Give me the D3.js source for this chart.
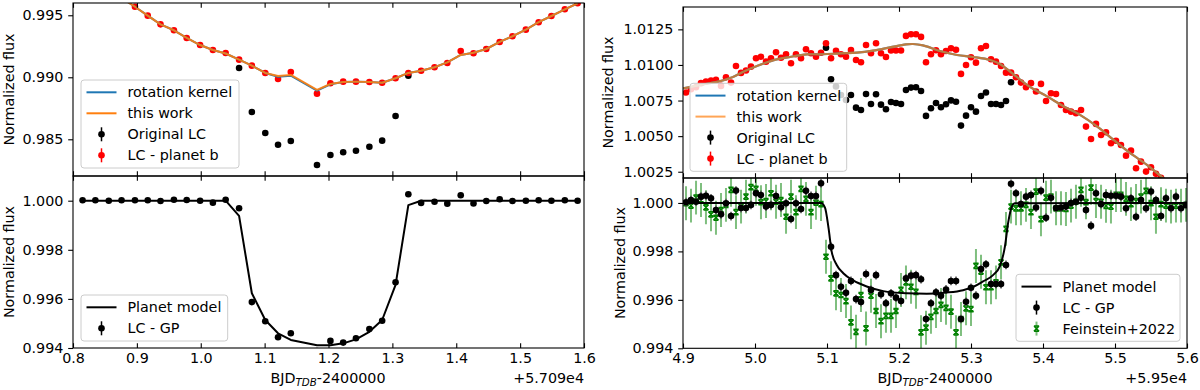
<!DOCTYPE html>
<html>
<head>
<meta charset="utf-8">
<script src="https://cdn.jsdelivr.net/npm/d3@7"></script>
<style>
  body { margin: 0; background: #fff; }
  text { font-family: "DejaVu Sans", sans-serif; }
</style>
</head>
<body>
<svg id="fig" width="1200" height="390"></svg>
<script>
// ---------------- left transit (x offset +5.709e4) ----------------
const tL = [0.815, 0.835, 0.856, 0.876, 0.897, 0.917, 0.937, 0.958, 0.978, 0.999,
  1.019, 1.039, 1.060, 1.080, 1.101, 1.121, 1.141, 1.182, 1.203, 1.223,
  1.243, 1.264, 1.284, 1.305, 1.325, 1.345, 1.366, 1.386, 1.407, 1.427,
  1.447, 1.468, 1.488, 1.509, 1.529, 1.549, 1.570, 1.590]
// LC - planet b
const lcbL = [0.99850, 0.99780, 0.99710, 0.99640, 0.99569, 0.99497, 0.99427, 0.99379, 0.99317, 0.99260,
  0.99220, 0.99196, 0.99142, 0.99094, 0.99035, 0.98986, 0.99043, 0.98868, 0.98952, 0.98965,
  0.98965, 0.98962, 0.98956, 0.98992, 0.99035, 0.99053, 0.99081, 0.99115, 0.99212, 0.99194,
  0.99228, 0.99285, 0.99331, 0.99384, 0.99444, 0.99494, 0.99548, 0.99597]
// Original LC (only where it differs from LC - planet b)
const origL = [null, null, null, null, null, null, null, null, null, null,
  null, null, 0.99075, 0.98720, 0.98551, 0.98456, 0.98486, 0.98293, 0.98373, 0.98395,
  0.98408, 0.98440, 0.98489, 0.98688, 0.99013, null, null, null, null, null,
  null, null, null, null, null, null, null, null]
const rotKernelL = [0.99850, 0.99780, 0.99710, 0.99640, 0.99569, 0.99497, 0.99427, 0.99379, 0.99317, 0.99260,
  0.99220, 0.99192, 0.99142, 0.99094, 0.99035, 0.99004, 0.99013, 0.98892, 0.98944, 0.98962,
  0.98965, 0.98962, 0.98956, 0.98992, 0.99035, 0.99053, 0.99081, 0.99120, 0.99180, 0.99198,
  0.99228, 0.99285, 0.99331, 0.99384, 0.99444, 0.99494, 0.99548, 0.99597]
const thisWorkL = [0.99850, 0.99780, 0.99710, 0.99640, 0.99569, 0.99497, 0.99427, 0.99379, 0.99317, 0.99260,
  0.99220, 0.99192, 0.99142, 0.99094, 0.99035, 0.99010, 0.99019, 0.98898, 0.98946, 0.98962,
  0.98965, 0.98962, 0.98956, 0.98992, 0.99035, 0.99053, 0.99081, 0.99120, 0.99180, 0.99198,
  0.99228, 0.99285, 0.99331, 0.99384, 0.99444, 0.99494, 0.99548, 0.99597]
// LC - GP
const gpL = [1.00002, 1.00002, 1.00000, 1.00002, 1.00002, 1.00002, 0.99999, 1.00004, 1.00003, 1.00000,
  0.99992, 1.00004, 0.99969, 0.99587, 0.99509, 0.99444, 0.99460, 0.99388, 0.99429, 0.99422,
  0.99440, 0.99477, 0.99511, 0.99668, 1.00026, 0.99991, 0.99996, 0.99988, 1.00022, 0.99989,
  0.99999, 1.00006, 0.99999, 1.00000, 1.00002, 1.00000, 1.00002, 1.00000]
const modelL = [1, 1, 1, 1, 1, 1, 1, 1, 1, 1,
  1, 1, 0.99938, 0.99623, 0.99514, 0.99460, 0.99433, 0.99411, 0.99411, 0.99419,
  0.99435, 0.99466, 0.99514, 0.99657, 0.99982, 1, 1, 1, 1, 1,
  1, 1, 1, 1, 1, 1, 1, 1]

// ---------------- right transit (x offset +5.95e4) ----------------
const tR = [4.9042, 4.9111, 4.9181, 4.9250, 4.9319, 4.9389, 4.9458, 4.9528, 4.9597, 4.9667,
  4.9736, 4.9806, 4.9875, 4.9944, 5.0014, 5.0083, 5.0153, 5.0222, 5.0292, 5.0361,
  5.0431, 5.0500, 5.0569, 5.0639, 5.0708, 5.0778, 5.0847, 5.0917, 5.0986, 5.1056,
  5.1125, 5.1194, 5.1264, 5.1333, 5.1403, 5.1472, 5.1542, 5.1611, 5.1681, 5.1750,
  5.1819, 5.1889, 5.1958, 5.2028, 5.2097, 5.2167, 5.2236, 5.2306, 5.2375, 5.2444,
  5.2514, 5.2583, 5.2653, 5.2722, 5.2792, 5.2861, 5.2931, 5.3000, 5.3069, 5.3139,
  5.3208, 5.3278, 5.3347, 5.3417, 5.3486, 5.3556, 5.3625, 5.3694, 5.3764, 5.3833,
  5.3903, 5.3972, 5.4042, 5.4111, 5.4181, 5.4250, 5.4319, 5.4389, 5.4458, 5.4528,
  5.4597, 5.4667, 5.4736, 5.4806, 5.4875, 5.4944, 5.5014, 5.5083, 5.5153, 5.5222,
  5.5292, 5.5361, 5.5431, 5.5500, 5.5569, 5.5639, 5.5708, 5.5778, 5.5847, 5.5917,
  5.5986]
const lcbR = [1.00806, 1.00829, 1.00843, 1.00872, 1.00883, 1.00890, 1.00895, 1.00853, 1.00914, 1.00876,
  1.00993, 1.00944, 1.00961, 1.00988, 1.01047, 1.01058, 1.01023, 1.01047, 1.01089, 1.01051,
  1.01075, 1.01012, 1.01075, 1.01047, 1.01110, 1.01082, 1.01058, 1.01086, 1.01152, 1.01047,
  1.01100, 1.01075, 1.01058, 1.01105, 1.01035, 1.01019, 1.01140, 1.01082, 1.01152, 1.01082,
  1.01056, 1.01102, 1.01102, 1.01102, 1.01204, 1.01216, 1.01216, 1.01197, 1.01019, 1.01075,
  1.01103, 1.01076, 1.01098, 1.01117, 1.01107, 1.00937, 1.01000, 1.01054, 1.01016, 1.01117,
  1.01133, 1.01040, 1.01023, 1.00993, 1.00946, 1.00946, 1.00914, 1.00876, 1.00843, 1.00872,
  1.00813, 1.00867, 1.00747, 1.00801, 1.00796, 1.00719, 1.00684, 1.00672, 1.00661, 1.00684,
  1.00567, 1.00480, 1.00586, 1.00508, 1.00527, 1.00450, 1.00468, 1.00438, 1.00363, 1.00398,
  1.00275, 1.00321, 1.00251, 1.00282, 1.00235, 1.00207, 1.00178, 1.00164, 1.00122, 1.00108,
  1.00080]
const origR = [null, null, null, null, null, null, null, null, null, null,
  null, null, null, null, null, null, null, null, null, null,
  null, null, null, null, null, null, null, null, 1.01121, 1.00900,
  1.00849, 1.00789, 1.00754, 1.00789, 1.00700, 1.00684, 1.00796, 1.00726, 1.00794, 1.00721,
  1.00689, 1.00740, 1.00733, 1.00726, 1.00824, 1.00841, 1.00843, 1.00817, 1.00642, 1.00696,
  1.00733, 1.00703, 1.00724, 1.00751, 1.00742, 1.00574, 1.00644, 1.00703, 1.00672, 1.00782,
  1.00806, 1.00726, 1.00726, 1.00719, 1.00747, 1.00879, null, null, null, null,
  null, null, null, null, null, null, null, null, null, null,
  null, null, null, null, null, null, null, null, null, null,
  null, null, null, null, null, null, null, null, null, null,
  null]
const gpR = [1.00003, 1.00012, 1.00005, 1.00026, 1.00030, 1.00019, 0.99971, 0.99953, 0.99999, 0.99946,
  1.00051, 0.99979, 0.99979, 0.99992, 1.00040, 1.00033, 0.99985, 0.99992, 1.00029, 0.99982,
  0.99999, 0.99934, 0.99999, 0.99975, 1.00050, 1.00029, 1.00029, 1.00081, 1.00136, 0.99819,
  0.99702, 0.99654, 0.99629, 0.99678, 0.99603, 0.99591, 0.99707, 0.99641, 0.99702, 0.99623,
  0.99586, 0.99627, 0.99609, 0.99595, 0.99689, 0.99700, 0.99702, 0.99685, 0.99521, 0.99586,
  0.99631, 0.99617, 0.99643, 0.99678, 0.99678, 0.99521, 0.99592, 0.99650, 0.99617, 0.99727,
  0.99747, 0.99665, 0.99665, 0.99665, 0.99744, 1.00079, 1.00040, 0.99995, 1.00026, 1.00033,
  0.99981, 1.00050, 0.99939, 1.00021, 0.99979, 0.99981, 0.99985, 1.00000, 1.00005, 1.00021,
  0.99971, 0.99906, 1.00040, 0.99995, 1.00033, 1.00030, 1.00030, 1.00026, 0.99978, 1.00019,
  0.99943, 1.00012, 0.99978, 1.00047, 1.00012, 0.99946, 1.00019, 0.99978, 1.00026, 0.99978,
  0.99992]
const feinR = [0.99999, 0.99989, 1.00022, 1.00012, 0.99982, 0.99953, 0.99939, 0.99971, 0.99992, 1.00054,
  0.99962, 0.99985, 1.00026, 1.00065, 1.00058, 1.00003, 1.00008, 1.00040, 1.00005, 1.00012,
  0.99943, 1.00026, 0.99962, 1.00058, 1.00017, 0.99962, 1.00001, 0.99995, 0.99778, 0.99689,
  0.99627, 0.99620, 0.99595, 0.99507, 0.99468, 0.99620, 0.99482, 0.99617, 0.99554, 0.99512,
  0.99534, 0.99534, 0.99554, 0.99641, 0.99672, 0.99654, 0.99633, 0.99466, 0.99485, 0.99530,
  0.99554, 0.99579, 0.99567, 0.99551, 0.99466, 0.99521, 0.99565, 0.99562, 0.99740, 0.99716,
  0.99652, 0.99652, 0.99672, 0.99755, 0.99893, 0.99985, 0.99978, 0.99978, 0.99992, 0.99962,
  1.00047, 0.99933, 1.00022, 1.00026, 0.99978, 0.99978, 0.99975, 0.99989, 1.00005, 1.00054,
  1.00003, 1.00063, 1.00008, 1.00005, 0.99988, 0.99985, 1.00033, 1.00033, 1.00017, 0.99995,
  1.00008, 1.00026, 1.00050, 0.99999, 0.99943, 0.99995, 0.99989, 0.99985, 0.99989, 0.99989,
  0.99992]
const gpErrR = 0.00018
const feinErrR = 0.0007

// GP curves (right top)
const gpCurveT = [4.9000, 4.9236, 4.9472, 4.9694, 4.9861, 5.0028, 5.0250, 5.0486, 5.0722, 5.0944,
  5.1181, 5.1417, 5.1639, 5.1875, 5.2097, 5.2194, 5.2333, 5.2569, 5.2806, 5.3028,
  5.3264, 5.3403, 5.3583, 5.3819, 5.4056, 5.4278, 5.4514, 5.4750, 5.4972, 5.5208,
  5.5444, 5.5667, 5.5903]
const rotKernelR = [1.00835, 1.00860, 1.00881, 1.00916, 1.00958, 1.00993, 1.01032, 1.01056, 1.01074, 1.01075,
  1.01081, 1.01086, 1.01100, 1.01123, 1.01144, 1.01147, 1.01137, 1.01098, 1.01070, 1.01056,
  1.01035, 1.01007, 1.00937, 1.00846, 1.00779, 1.00712, 1.00649, 1.00568, 1.00477, 1.00382,
  1.00298, 1.00207, 1.00122]
const thisWorkR = [1.00835, 1.00860, 1.00881, 1.00916, 1.00958, 1.00993, 1.01032, 1.01056, 1.01074, 1.01075,
  1.01081, 1.01086, 1.01100, 1.01123, 1.01144, 1.01147, 1.01137, 1.01098, 1.01070, 1.01056,
  1.01035, 1.01007, 1.00937, 1.00846, 1.00779, 1.00712, 1.00649, 1.00568, 1.00477, 1.00382,
  1.00298, 1.00207, 1.00122]

// planet model (right bottom)
const planetT = [4.9000, 5.0917, 5.0972, 5.1021, 5.1065, 5.1135, 5.1226, 5.1365, 5.1551, 5.1782,
  5.2107, 5.2385, 5.2663, 5.2889, 5.3028, 5.3167, 5.3306, 5.3403, 5.3472, 5.3518,
  5.3565, 5.3611, 5.6000]
const planetR = [1.00000, 1.00000, 0.99981, 0.99897, 0.99799, 0.99744, 0.99710, 0.99680, 0.99655, 0.99636,
  0.99627, 0.99625, 0.99630, 0.99640, 0.99653, 0.99676, 0.99702, 0.99740, 0.99822, 0.99922,
  0.99983, 0.99999, 1.00000]

// ticks
const xTicksL = [0.8, 0.9, 1.0, 1.1, 1.2, 1.3, 1.4, 1.5, 1.6]
const xTicksR = [4.9, 5.0, 5.1, 5.2, 5.3, 5.4, 5.5, 5.6]
const yTicksLT = [0.985, 0.990, 0.995]
const yTicksRT = [1.0025, 1.0050, 1.0075, 1.0100, 1.0125]
const yTicksB = [0.994, 0.996, 0.998, 1.000]

// ---------------- drawing ----------------
const FS = 14.3
const TICK = 4.8
const BLUE = '#1f77b4', ORANGE = '#ff7f0e'
const svg = d3.select('#fig')
const defs = svg.append('defs')

const xL = d3.scaleLinear().domain([0.8, 1.6]).range([73, 584])
const xR = d3.scaleLinear().domain([4.9, 5.6]).range([683, 1187])
const yLT = d3.scaleLinear().domain([0.98204, 0.99599]).range([176, 3])
const yLB = d3.scaleLinear().domain([0.994, 1.001006]).range([348, 176])
const yRT = d3.scaleLinear().domain([1.00206, 1.01407]).range([178, 7])
const yRB = d3.scaleLinear().domain([0.994, 1.00103]).range([348.3, 178])

function styleAxis(g) {
  g.attr('font-size', FS).attr('font-family', '"DejaVu Sans", sans-serif')
  g.select('.domain').remove()
  g.selectAll('line').attr('stroke', '#000').attr('stroke-width', 1.1)
  g.selectAll('text').attr('fill', '#000')
}

// one axes box: clip group returned for data
function panel(id, x, y, yTicks, yFmt, showX, xTicks) {
  const [x0, x1] = x.range(), [yb, yt] = y.range()
  defs.append('clipPath').attr('id', id).append('rect')
    .attr('x', x0).attr('y', yt).attr('width', x1 - x0).attr('height', yb - yt)
  const g = svg.append('g').attr('clip-path', `url(#${id})`)

  svg.append('g').attr('transform', `translate(${x0},0)`)
    .call(d3.axisLeft(y).tickValues(yTicks).tickFormat(d3.format(yFmt)).tickSize(TICK).tickPadding(4.8))
    .call(styleAxis)
  svg.append('g').attr('transform', `translate(0,${yb})`)
    .call(d3.axisBottom(x).tickValues(xTicks).tickFormat(showX ? d3.format('.1f') : '').tickSize(-TICK).tickPadding(4.6))
    .call(styleAxis)
  svg.append('g').attr('transform', `translate(0,${yt})`)
    .call(d3.axisTop(x).tickValues(xTicks).tickFormat('').tickSize(-TICK))
    .call(styleAxis)
  return g
}

function frame(x, y) {
  const [x0, x1] = x.range(), [yb, yt] = y.range()
  svg.append('rect').attr('x', x0).attr('y', yt).attr('width', x1 - x0).attr('height', yb - yt)
    .attr('fill', 'none').attr('stroke', '#000').attr('stroke-width', 1.1)
}

function pairs(ts, vs) {
  return ts.map((t, i) => [t, vs[i]]).filter(d => d[1] != null)
}

function line(g, x, y, ts, vs, color, w, op, curve) {
  g.append('path').datum(pairs(ts, vs))
    .attr('d', d3.line().x(d => x(d[0])).y(d => y(d[1])).curve(curve || d3.curveLinear))
    .attr('fill', 'none').attr('stroke', color).attr('stroke-width', w)
    .attr('stroke-opacity', op).attr('stroke-linejoin', 'round')
}

function dots(g, x, y, ts, vs, color, err, errColor) {
  const d = pairs(ts, vs)
  if (err) {
    g.append('g').selectAll('line').data(d).enter().append('line')
      .attr('x1', e => x(e[0])).attr('x2', e => x(e[0]))
      .attr('y1', e => y(e[1] - err)).attr('y2', e => y(e[1] + err))
      .attr('stroke', errColor).attr('stroke-width', 1.5)
  }
  g.append('g').selectAll('circle').data(d).enter().append('circle')
    .attr('cx', e => x(e[0])).attr('cy', e => y(e[1])).attr('r', 3.3).attr('fill', color)
}

const hourglass = 'M-2.6,-2.6L2.6,2.6M-2.6,2.6L2.6,-2.6M-2.6,-2.6H2.6M-2.6,2.6H2.6'

function xmarks(g, x, y, ts, vs, err) {
  const d = pairs(ts, vs)
  g.append('g').selectAll('line').data(d).enter().append('line')
    .attr('x1', e => x(e[0])).attr('x2', e => x(e[0]))
    .attr('y1', e => y(e[1] - err)).attr('y2', e => y(e[1] + err))
    .attr('stroke', 'green').attr('stroke-opacity', 0.5).attr('stroke-width', 2)
  g.append('g').selectAll('path').data(d).enter().append('path')
    .attr('transform', e => `translate(${x(e[0])},${y(e[1])})`)
    .attr('d', hourglass).attr('fill', 'none').attr('stroke', 'green').attr('stroke-width', 1.5)
}

function legend(lx, ly, w, items) {
  const h = 25 + 21 * (items.length - 1)
  const g = svg.append('g').attr('transform', `translate(${lx},${ly})`)
  g.append('rect').attr('width', w).attr('height', h).attr('rx', 3)
    .attr('fill', '#fff').attr('fill-opacity', 0.8).attr('stroke', '#cccccc').attr('stroke-width', 1)
  items.forEach((it, i) => {
    const cy = 12.3 + 21 * i
    if (it.kind === 'line') {
      g.append('line').attr('x1', 5.5).attr('x2', 35.5).attr('y1', cy).attr('y2', cy)
        .attr('stroke', it.color).attr('stroke-width', 2).attr('stroke-opacity', it.op || 1)
    } else if (it.kind === 'dot') {
      g.append('line').attr('x1', 20.5).attr('x2', 20.5).attr('y1', cy - 7).attr('y2', cy + 7)
        .attr('stroke', it.color).attr('stroke-width', 1.5)
      g.append('circle').attr('cx', 20.5).attr('cy', cy).attr('r', 3.3).attr('fill', it.color)
    } else {
      g.append('line').attr('x1', 20.5).attr('x2', 20.5).attr('y1', cy - 7).attr('y2', cy + 7)
        .attr('stroke', 'green').attr('stroke-opacity', 0.5).attr('stroke-width', 2)
      g.append('path').attr('transform', `translate(20.5,${cy})`).attr('d', hourglass)
        .attr('fill', 'none').attr('stroke', 'green').attr('stroke-width', 1.5)
    }
    g.append('text').attr('x', 46.5).attr('y', cy).attr('dy', '0.35em')
      .attr('font-size', FS).attr('fill', '#000').text(it.label)
  })
}

function ylabel(cx, cy) {
  svg.append('text').attr('transform', `translate(${cx},${cy}) rotate(-90)`)
    .attr('text-anchor', 'middle').attr('dy', '0.35em').attr('font-size', FS).text('Normalized flux')
}

function xlabel(cx, offset, rx) {
  const t = svg.append('text').attr('x', cx).attr('y', 383).attr('text-anchor', 'middle').attr('font-size', FS)
  t.append('tspan').text('BJD')
  t.append('tspan').attr('font-size', FS * 0.72).attr('font-style', 'italic').attr('dy', 3).text('TDB')
  t.append('tspan').attr('dy', -3).text('-2400000')
  svg.append('text').attr('x', rx).attr('y', 383).attr('text-anchor', 'end').attr('font-size', FS).text(offset)
}

// left top
let g = panel('cLT', xL, yLT, yTicksLT, '.3f', false, xTicksL)
dots(g, xL, yLT, tL, origL, '#000', 0.00005, '#000')
dots(g, xL, yLT, tL, lcbL, 'red', 0.00005, 'red')
line(g, xL, yLT, tL, rotKernelL, BLUE, 2, 1)
line(g, xL, yLT, tL, thisWorkL, ORANGE, 2, 0.9)

// left bottom
g = panel('cLB', xL, yLB, yTicksB, '.3f', true, xTicksL)
line(g, xL, yLB, tL, modelL, '#000', 2, 1)
dots(g, xL, yLB, tL, gpL, '#000', 0.00003, '#000')

// right top
g = panel('cRT', xR, yRT, yTicksRT, '.4f', false, xTicksR)
dots(g, xR, yRT, tR, origR, '#000', 0.00005, '#000')
dots(g, xR, yRT, tR, lcbR, 'red', 0.00005, 'red')
line(g, xR, yRT, gpCurveT, rotKernelR, BLUE, 2.2, 1, d3.curveCatmullRom)
line(g, xR, yRT, gpCurveT, thisWorkR, ORANGE, 2.2, 0.7, d3.curveCatmullRom)

// right bottom
g = panel('cRB', xR, yRB, yTicksB, '.3f', true, xTicksR)
xmarks(g, xR, yRB, tR, feinR, feinErrR)
dots(g, xR, yRB, tR, gpR, '#000', gpErrR, '#555')
line(g, xR, yRB, planetT, planetR, '#000', 2, 1, d3.curveMonotoneX)

frame(xL, yLT); frame(xL, yLB); frame(xR, yRT); frame(xR, yRB)

legend(81, 80, 158, [
  { kind: 'line', color: BLUE, label: 'rotation kernel' },
  { kind: 'line', color: ORANGE, label: 'this work' },
  { kind: 'dot', color: '#000', label: 'Original LC' },
  { kind: 'dot', color: 'red', label: 'LC - planet b' }])
legend(81, 295, 146.7, [
  { kind: 'line', color: '#000', label: 'Planet model' },
  { kind: 'dot', color: '#000', label: 'LC - GP' }])
legend(690, 83.3, 156.7, [
  { kind: 'line', color: BLUE, label: 'rotation kernel' },
  { kind: 'line', color: ORANGE, label: 'this work', op: 0.7 },
  { kind: 'dot', color: '#000', label: 'Original LC' },
  { kind: 'dot', color: 'red', label: 'LC - planet b' }])
legend(1016, 274.3, 164, [
  { kind: 'line', color: '#000', label: 'Planet model' },
  { kind: 'dot', color: '#000', label: 'LC - GP' },
  { kind: 'x', label: 'Feinstein+2022' }])

ylabel(8.5, 89.5); ylabel(8.5, 262)
ylabel(608, 92.5); ylabel(620, 263)
xlabel(328, '+5.709e4', 584)
xlabel(935, '+5.95e4', 1187)
</script>
</body>
</html>
